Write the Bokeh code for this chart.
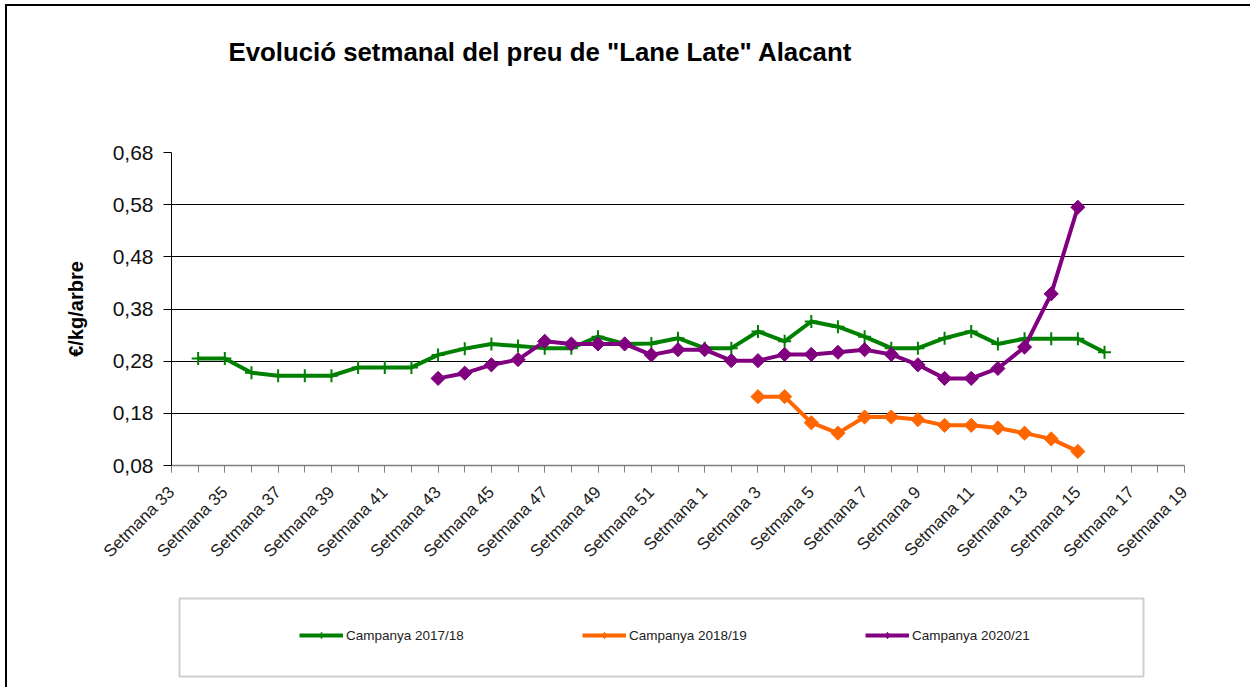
import math
import numpy as np
from bokeh.plotting import figure
from bokeh.layouts import column
from bokeh.models import (Range1d, FixedTicker, Legend, LegendItem, InlineStyleSheet,
                          Title, BoxAnnotation)
from bokeh.embed import file_html
from bokeh.resources import INLINE

# ---------------- data ----------------
weeks = ["Setmana 33", "Setmana 34", "Setmana 35", "Setmana 36", "Setmana 37", "Setmana 38",
         "Setmana 39", "Setmana 40", "Setmana 41", "Setmana 42", "Setmana 43", "Setmana 44",
         "Setmana 45", "Setmana 46", "Setmana 47", "Setmana 48", "Setmana 49", "Setmana 50",
         "Setmana 51", "Setmana 52", "Setmana 1", "Setmana 2", "Setmana 3", "Setmana 4",
         "Setmana 5", "Setmana 6", "Setmana 7", "Setmana 8", "Setmana 9", "Setmana 10",
         "Setmana 11", "Setmana 12", "Setmana 13", "Setmana 14", "Setmana 15", "Setmana 16",
         "Setmana 17", "Setmana 18", "Setmana 19"]

y_ticks = [0.08, 0.18, 0.28, 0.38, 0.48, 0.58, 0.68]
y_tick_labels = ["0,08", "0,18", "0,28", "0,38", "0,48", "0,58", "0,68"]

camp_2017_18 = [None, 0.285, 0.285, 0.258, 0.252, 0.252, 0.252, 0.268, 0.268, 0.268,
                0.292, 0.304, 0.313, 0.309, 0.305, 0.305, 0.327, 0.313, 0.314, 0.324,
                0.305, 0.305, 0.337, 0.318, 0.356, 0.346, 0.327, 0.305, 0.305, 0.324,
                0.337, 0.313, 0.323, 0.323, 0.323, 0.297, None, None, None]

camp_2018_19 = [None, None, None, None, None, None, None, None, None, None,
                None, None, None, None, None, None, None, None, None, None,
                None, None, 0.212, 0.212, 0.162, 0.142, 0.173, 0.173, 0.168, 0.157,
                0.157, 0.152, 0.142, 0.131, 0.107, None, None, None, None]

camp_2020_21 = [None, None, None, None, None, None, None, None, None, None,
                0.247, 0.257, 0.273, 0.283, 0.318, 0.313, 0.313, 0.313, 0.292, 0.302,
                0.302, 0.281, 0.281, 0.293, 0.293, 0.297, 0.302, 0.293, 0.273, 0.247,
                0.247, 0.266, 0.307, 0.409, 0.575, None, None, None, None]

series_names = ["Campanya 2017/18", "Campanya 2018/19", "Campanya 2020/21"]
series_colors = ["#008000", "#FF6600", "#800080"]

title_text = 'Evolució setmanal del preu de "Lane Late" Alacant'
y_label_text = "€/kg/arbre"

FONT = "Liberation Sans"

# ---------------- main chart ----------------
x = list(range(len(weeks)))

p = figure(width=1250, height=590, output_backend="svg", toolbar_location=None,
           x_range=Range1d(0, len(weeks) - 1), y_range=Range1d(y_ticks[0], y_ticks[-1]),
           min_border_left=171, min_border_right=66, min_border_top=152, min_border_bottom=125)
p.outline_line_color = None
p.background_fill_color = "white"
p.border_fill_color = "white"

# title
p.title.text = title_text
p.title.align = "left"
p.title.offset = 57
p.title.vertical_align = "bottom"
p.title.standoff = 0
p.title.text_font = FONT
p.title.text_font_style = "bold"
p.title.text_font_size = "25.8px"
p.title.text_color = "black"

# blank gap between the plot area and the title
p.add_layout(Title(text=" ", standoff=74, text_font_size="10px"), "above")

# y axis
ya = p.left[0]
ya.ticker = FixedTicker(ticks=y_ticks)
ya.major_label_overrides = {v: s for v, s in zip(y_ticks, y_tick_labels)}
ya.axis_line_color = "black"
ya.axis_line_width = 1
ya.major_tick_line_color = "black"
ya.major_tick_out = 8
ya.major_tick_in = 0
ya.minor_tick_line_color = None
ya.major_label_text_font = FONT
ya.major_label_text_font_size = "21px"
ya.major_label_text_color = "#111111"
ya.major_label_standoff = 10
ya.axis_label = y_label_text
ya.axis_label_text_font = FONT
ya.axis_label_text_font_style = "bold"
ya.axis_label_text_font_size = "20px"
ya.axis_label_text_color = "black"
ya.axis_label_standoff = 23

# x axis
major_x = x[::2]
xa = p.below[0]
xa.ticker = FixedTicker(ticks=major_x, minor_ticks=x)
xa.major_label_overrides = {i: weeks[i] for i in major_x}
xa.axis_line_color = "#808080"
xa.axis_line_width = 1.5
xa.major_tick_line_color = "#808080"
xa.minor_tick_line_color = "#808080"
xa.major_tick_out = 7
xa.major_tick_in = 0
xa.minor_tick_out = 7
xa.minor_tick_in = 0
xa.major_label_orientation = math.pi / 4
xa.major_label_text_font = FONT
xa.major_label_text_font_size = "17px"
xa.major_label_text_color = "#222222"
xa.major_label_standoff = 17

# grid
p.xgrid.visible = False
p.ygrid.ticker = FixedTicker(ticks=y_ticks[1:])
p.ygrid.grid_line_color = "black"
p.ygrid.grid_line_width = 1

# series
for vals, name, col in zip([camp_2017_18, camp_2018_19, camp_2020_21], series_names, series_colors):
    y = np.array(vals, dtype=float)
    p.line(x, y, line_color=col, line_width=4)
    if name == "Campanya 2017/18":
        p.scatter(x, y, marker="cross", size=13, line_color=col, line_width=2)
    else:
        p.scatter(x, y, marker="square", angle=math.pi / 4, size=10,
                  fill_color=col, line_color=col, line_width=1)

# ---------------- legend strip ----------------
lg = figure(width=1250, height=97, output_backend="svg", toolbar_location=None,
            x_axis_type=None, y_axis_type=None, min_border=0,
            x_range=Range1d(0, 1), y_range=Range1d(0, 1))
lg.outline_line_color = None
lg.background_fill_color = "white"
lg.border_fill_color = "white"

blank = np.array([np.nan])
items = []
for name, col in zip(series_names, series_colors):
    l_line = lg.line(blank, blank, line_color=col, line_width=4)
    if name == "Campanya 2017/18":
        l_mark = lg.scatter(blank, blank, marker="cross", size=6, line_color=col, line_width=1.5)
    else:
        l_mark = lg.scatter(blank, blank, marker="diamond", size=8,
                            fill_color=col, line_color=col)
    items.append(LegendItem(label=name, renderers=[l_line, l_mark]))

legend = Legend(items=items, orientation="horizontal", location=(128, 42),
                padding=0, spacing=116, margin=0,
                glyph_width=44, glyph_height=16, label_width=120, label_height=20,
                label_standoff=3,
                label_text_font=FONT, label_text_font_size="13.5px", label_text_color="#222222",
                border_line_color=None, background_fill_alpha=0)
lg.add_layout(legend)

lg.add_layout(BoxAnnotation(left=8, right=972, top=89, bottom=11,
                            left_units="screen", right_units="screen",
                            top_units="screen", bottom_units="screen",
                            fill_alpha=0, line_color="#5f5f5f", line_width=2))

page = column(p, lg, spacing=0)
# outer chart frame (left and top edges)
page.stylesheets = [InlineStyleSheet(css=(
    ":host::after { content: ''; position: absolute; left: 5px; top: 4px; "
    "right: 0; bottom: 0; border-left: 2px solid #000; border-top: 2px solid #000; "
    "pointer-events: none; z-index: 50; }"))]

open("out.html", "w").write(file_html(page, INLINE))
